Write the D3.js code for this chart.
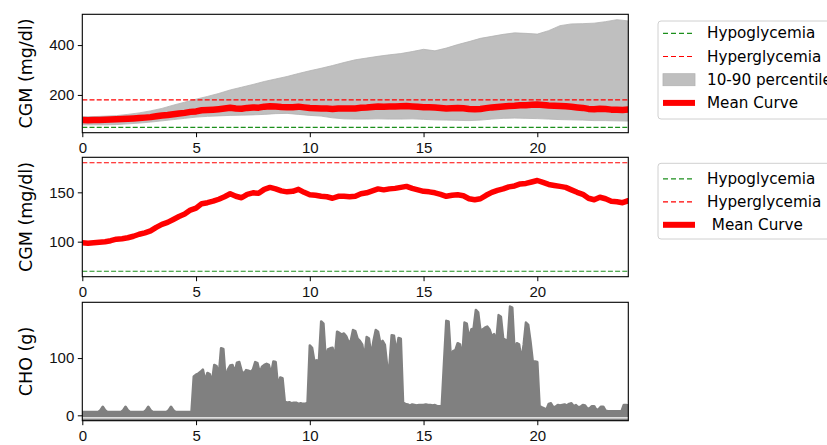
<!DOCTYPE html>
<html><head>
<meta charset="utf-8">
<script src="https://d3js.org/d3.v7.min.js"></script>
<style>
  body { margin: 0; background: #fff; }
  svg { font-family: "DejaVu Sans", sans-serif; }
  .tick text { font-size: 15px; fill: #111; }
</style>
</head>
<body>
<div id="container" style="width: 827px; height: 445px;"></div>
<script>
// Mean CGM curve, every 15 minutes (mg/dl)
const meanHours = d3.range(0, 24.01, 0.25);
const meanCgm = [99, 98.5, 99, 99.5, 100, 101, 102.5, 103, 104, 105.5, 107.5, 109, 111, 114.5, 117.5, 119.5,
  122.5, 125.5, 128, 132, 134, 138.5, 139.5, 141, 143, 145.5, 148.5, 146, 144.5, 148, 149.5, 149,
  153, 155, 153.5, 151.5, 150.5, 151, 153, 150, 147.5, 147, 146, 145.5, 144, 146, 146, 145.5,
  146, 148.5, 149.5, 151.5, 153.5, 152.5, 153.5, 154, 155, 156, 154, 152.5, 151, 150.5, 149.5, 148,
  146, 147, 147.5, 146.5, 143.5, 142.5, 143.5, 147, 150, 152, 153.5, 155.5, 156.5, 158.5, 159, 160.5,
  162, 160, 158, 157, 156, 155, 152.5, 150, 148, 144, 142.5, 145, 143.5, 141, 140.5, 139.5, 141.5];

// 10-90 percentile band, every 30 minutes
const bandHours = d3.range(0, 24.01, 0.5);
const p10 = [80, 80, 80, 81, 84, 87, 91, 96, 101, 106, 111, 114, 116, 118, 119, 120, 122, 125, 126, 122,
  118, 115, 108, 104, 103, 103, 104, 103, 103, 104, 102, 100, 99, 98, 97, 99, 103, 106, 107, 106,
  105, 103, 101, 100, 99, 97, 97, 96, 95];
const p90 = [112, 113, 115, 117, 122, 128, 136, 146, 159, 171, 183, 194, 206, 220, 231, 242, 254, 264, 274, 286,
  297, 307, 318, 330, 341, 348, 355, 361, 366, 374, 383, 377, 388, 402, 414, 427, 435, 443, 449, 447,
  444, 458, 478, 485, 486, 488, 494, 502, 497];

// Carbohydrate intake, every 6 minutes (g)
const choHours = d3.range(0, 24.01, 0.1);
const choGrams = [
  6, 6, 6, 6, 6, 6, 6, 6, 9, 15, 9, 6, 6, 6, 6, 6, 6, 6, 9, 15,
  9, 6, 6, 6, 6, 6, 6, 6, 9, 15, 9, 6, 6, 6, 6, 6, 6, 6, 9, 15,
  9, 6, 6, 6, 6, 6, 6, 6, 6, 68, 71, 73, 76, 80, 60, 74, 72, 58, 88, 86,
  70, 117, 116, 62, 80, 87, 88, 75, 92, 93, 78, 72, 79, 78, 76, 80, 93, 91, 74, 85,
  88, 90, 88, 72, 94, 93, 50, 66, 65, 24, 22, 23, 21, 22, 22, 20, 21, 20, 20, 22,
  122, 118, 94, 96, 94, 164, 160, 98, 115, 117, 118, 100, 146, 144, 141, 143, 138, 128, 130, 149,
  147, 134, 130, 124, 100, 137, 134, 104, 130, 149, 146, 126, 130, 123, 86, 86, 140, 139, 110, 135,
  134, 22, 20, 19, 17, 19, 18, 17, 18, 18, 18, 19, 18, 18, 17, 18, 16, 16, 16, 92,
  165, 164, 100, 112, 114, 126, 124, 100, 162, 160, 134, 150, 152, 184, 180, 148, 150, 153, 155, 150,
  138, 142, 130, 175, 172, 134, 132, 130, 190, 188, 111, 126, 124, 97, 123, 162, 158, 129, 94, 94,
  93, 16, 14, 12, 10, 20, 21, 14, 15, 18, 17, 18, 19, 17, 20, 21, 16, 18, 14, 15,
  18, 17, 12, 12, 16, 16, 9, 11, 15, 15, 8, 7, 7, 7, 7, 7, 7, 7, 18, 18, 17];

const hypoLevel = 70;
const hyperLevel = 180;
const xTicks = [0, 5, 10, 15, 20];

const width = 827, height = 445;
const svg = d3.select("#container").append("svg")
  .attr("width", width).attr("height", height);

const x = d3.scaleLinear().domain([0, 24]).range([82.3, 628.3]);

const panels = [
  { top: 14.3, bottom: 132.7, domain: [48.5, 523.5], ticks: [200, 400], label: "CGM (mg/dl)" },
  { top: 157.3, bottom: 276.7, domain: [64.5, 185.5], ticks: [100, 150], label: "CGM (mg/dl)" },
  { top: 302.3, bottom: 420.7, domain: [-9.4, 197.4], ticks: [0, 100], label: "CHO (g)" }
];

panels.forEach((p, i) => {
  p.y = d3.scaleLinear().domain(p.domain).range([p.bottom, p.top]);
  p.g = svg.append("g");
  svg.append("clipPath").attr("id", "clip" + i)
    .append("rect").attr("x", x.range()[0]).attr("y", p.top)
    .attr("width", x.range()[1] - x.range()[0]).attr("height", p.bottom - p.top);
  p.plot = p.g.append("g").attr("clip-path", "url(#clip" + i + ")");
});

function hline(p, level, color) {
  p.plot.append("line")
    .attr("x1", x(0)).attr("x2", x(24))
    .attr("y1", p.y(level)).attr("y2", p.y(level))
    .attr("stroke", color).attr("stroke-width", 1.2)
    .attr("stroke-dasharray", "5,2.2");
}

// panel 1: band + mean
const p1 = panels[0];
const band = d3.area()
  .x((d, i) => x(bandHours[i]))
  .y0((d, i) => p1.y(p10[i]))
  .y1((d, i) => p1.y(p90[i]));
p1.plot.append("path").datum(p90).attr("d", band)
  .attr("fill", "#bfbfbf").attr("stroke", "#b3b3b3").attr("stroke-width", 0.8);
hline(p1, hypoLevel, "#1c8f1c");
hline(p1, hyperLevel, "#ff0000");
p1.plot.append("path").datum(meanCgm)
  .attr("d", d3.line().x((d, i) => x(meanHours[i])).y(d => p1.y(d)))
  .attr("fill", "none").attr("stroke", "#ff0000").attr("stroke-width", 6.5)
  .attr("stroke-linejoin", "round");

// panel 2: mean only
const p2 = panels[1];
hline(p2, hypoLevel, "#1c8f1c");
hline(p2, hyperLevel, "#ff0000");
p2.plot.append("path").datum(meanCgm)
  .attr("d", d3.line().x((d, i) => x(meanHours[i])).y(d => p2.y(d)))
  .attr("fill", "none").attr("stroke", "#ff0000").attr("stroke-width", 5.5)
  .attr("stroke-linejoin", "round").attr("stroke-linecap", "round");

// panel 3: CHO
const p3 = panels[2];
p3.plot.append("path").datum(choGrams)
  .attr("d", d3.area().x((d, i) => x(choHours[i])).y0(p3.bottom).y1(d => p3.y(d)))
  .attr("fill", "#808080").attr("stroke", "#808080").attr("stroke-width", 2.5)
  .attr("stroke-linejoin", "round");
p3.plot.append("line")
  .attr("x1", x(0)).attr("x2", x(24))
  .attr("y1", p3.y(-4.5)).attr("y2", p3.y(-4.5))
  .attr("stroke", "#fff").attr("stroke-width", 1.4);

// axes, spines, labels
panels.forEach(p => {
  p.g.append("g").attr("transform", `translate(${x.range()[0]},0)`)
    .call(d3.axisLeft(p.y).tickValues(p.ticks).tickSize(4.5).tickPadding(3.5))
    .call(g => g.select(".domain").remove());
  p.g.append("g").attr("transform", `translate(0,${p.bottom})`)
    .call(d3.axisBottom(x).tickValues(xTicks).tickSize(4.5).tickPadding(5.5))
    .call(g => g.select(".domain").remove());
  p.g.append("rect")
    .attr("x", x.range()[0]).attr("y", p.top)
    .attr("width", x.range()[1] - x.range()[0]).attr("height", p.bottom - p.top)
    .attr("fill", "none").attr("stroke", "#000").attr("stroke-width", 1.1);
  p.g.append("text")
    .attr("transform", `translate(25.5,${(p.top + p.bottom) / 2}) rotate(-90)`)
    .attr("text-anchor", "middle").attr("dominant-baseline", "central")
    .attr("font-size", 17.5).text(p.label);
});

// legends
function legend(top, first, step, boxHeight, items) {
  const g = svg.append("g");
  g.append("rect").attr("x", 658).attr("y", top).attr("width", 190)
    .attr("height", boxHeight).attr("rx", 3)
    .attr("fill", "#fff").attr("stroke", "#d0d0d0").attr("stroke-width", 1);
  items.forEach((it, i) => {
    const cy = top + first + i * step;
    if (it.type === "dash") {
      g.append("line").attr("x1", 663).attr("x2", 695).attr("y1", cy).attr("y2", cy)
        .attr("stroke", it.color).attr("stroke-width", 1.2).attr("stroke-dasharray", "5,3");
    } else if (it.type === "patch") {
      g.append("rect").attr("x", 663).attr("y", cy - 6).attr("width", 32).attr("height", 12)
        .attr("fill", "#bfbfbf").attr("stroke", "#b3b3b3").attr("stroke-width", 0.8);
    } else {
      g.append("line").attr("x1", 663).attr("x2", 695).attr("y1", cy).attr("y2", cy)
        .attr("stroke", "#ff0000").attr("stroke-width", 6);
    }
    g.append("text").attr("x", 707).attr("y", cy).attr("dominant-baseline", "central")
      .attr("font-size", 15.2).style("white-space", "pre").text(it.label);
  });
}
legend(21, 12.3, 23.2, 98, [
  { type: "dash", color: "#1c8f1c", label: "Hypoglycemia" },
  { type: "dash", color: "#ff0000", label: "Hyperglycemia" },
  { type: "patch", label: "10-90 percentile" },
  { type: "line", label: "Mean Curve" }
]);
legend(163.3, 15.5, 23, 75.7, [
  { type: "dash", color: "#1c8f1c", label: "Hypoglycemia" },
  { type: "dash", color: "#ff0000", label: "Hyperglycemia" },
  { type: "line", label: " Mean Curve" }
]);
</script>
</body>
</html>
